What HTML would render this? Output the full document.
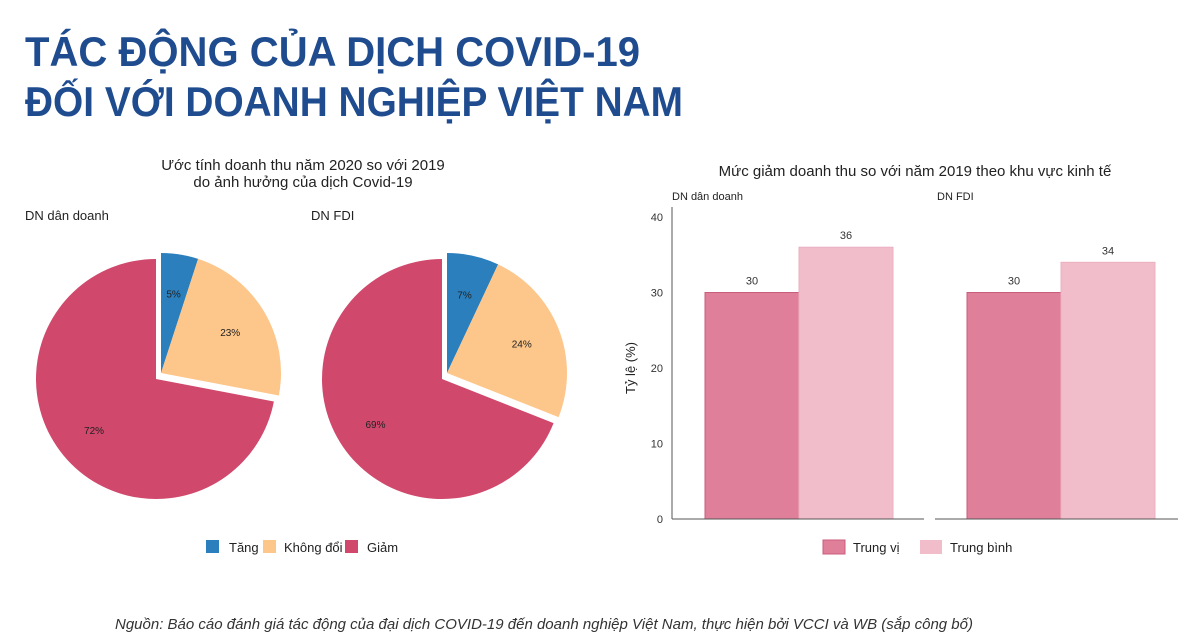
<!DOCTYPE html>
<html><head><meta charset="utf-8">
<style>
html,body{margin:0;padding:0;background:#fff;}
svg{display:block;font-family:"Liberation Sans","Noto Sans CJK SC",sans-serif;}
</style></head>
<body>
<svg id="root" width="1200" height="642" viewBox="0 0 1200 642">
  <g fill="#1f4b8f" font-weight="bold" font-size="42">
    <text x="25" y="66" textLength="615" lengthAdjust="spacingAndGlyphs">TÁC ĐỘNG CỦA DỊCH COVID-19</text>
    <text x="25" y="116" textLength="658" lengthAdjust="spacingAndGlyphs">ĐỐI VỚI DOANH NGHIỆP VIỆT NAM</text>
  </g>

  <g font-size="15" fill="#222" text-anchor="middle">
    <text x="303" y="170">Ước tính doanh thu năm 2020 so với 2019</text>
    <text x="303" y="187">do ảnh hưởng của dịch Covid-19</text>
  </g>
  <text x="25" y="220" font-size="13" fill="#222">DN dân doanh</text>
  <text x="311" y="220" font-size="13" fill="#222">DN FDI</text>
  <g id="pies"></g>

  <g font-size="13" fill="#222">
    <g><rect x="206" y="540" width="13" height="13" fill="#2b7fbd"/><text x="229" y="552">Tăng</text></g>
    <g><rect x="263" y="540" width="13" height="13" fill="#fdc68a"/><text x="284" y="552">Không đổi</text></g>
    <g><rect x="345" y="540" width="13" height="13" fill="#d0486c"/><text x="367" y="552">Giảm</text></g>
  </g>

  <text x="915" y="176" font-size="15" fill="#222" text-anchor="middle">Mức giảm doanh thu so với năm 2019 theo khu vực kinh tế</text>
  <text x="672" y="200" font-size="11" fill="#222">DN dân doanh</text>
  <text x="937" y="200" font-size="11" fill="#222">DN FDI</text>
  <text transform="translate(635,368) rotate(-90)" font-size="13" fill="#222" text-anchor="middle">Tỷ lệ (%)</text>
  <g id="bars"></g>

  <g font-size="13" fill="#222">
    <g><rect x="823" y="540" width="22" height="14" fill="#e07f99" stroke="#c85d7c"/><text x="853" y="552">Trung vị</text></g>
    <g><rect x="920" y="540" width="22" height="14" fill="#f2bdcb"/><text x="950" y="552">Trung bình</text></g>
  </g>

  <text x="544" y="629" font-size="15" font-style="italic" fill="#333" text-anchor="middle">Nguồn: Báo cáo đánh giá tác động của đại dịch COVID-19 đến doanh nghiệp Việt Nam, thực hiện bởi VCCI và WB (sắp công bố)</text>
</svg>
<script>
const pieGroups = ["DN dân doanh", "DN FDI"];
const pieCategories = ["Tăng", "Không đổi", "Giảm"];
const pieValuesDanDoanh = [5, 23, 72];
const pieValuesFDI = [7, 24, 69];
const pieColors = ["#2b7fbd", "#fdc68a", "#d0486c"];

const barGroups = ["DN dân doanh", "DN FDI"];
const barSeriesNames = ["Trung vị", "Trung bình"];
const barTrungVi = [30, 30];
const barTrungBinh = [36, 34];
const yTicks = [0, 10, 20, 30, 40];

const NS = "http://www.w3.org/2000/svg";
function mk(tag, attrs, parent) {
  const e = document.createElementNS(NS, tag);
  for (const k in attrs) e.setAttribute(k, attrs[k]);
  parent.appendChild(e);
  return e;
}

// Pies
const pies = document.getElementById('pies');
const pieLayouts = [{cx: 156, cy: 379}, {cx: 442, cy: 379}];
const R = 120;
[pieValuesDanDoanh, pieValuesFDI].forEach((vals, pi) => {
  const total = vals.reduce((a, b) => a + b, 0);
  const L = pieLayouts[pi];
  const g = mk('g', {}, pies);
  
  
  let acc = 0;
  vals.forEach((v, i) => {
    const a0 = acc / total * 2 * Math.PI;
    acc += v;
    const a1 = acc / total * 2 * Math.PI;
    const ox = i < 2 ? 5 : 0, oy = i < 2 ? -6 : 0;
    const cx = L.cx + ox, cy = L.cy + oy;
    const p = (a) => [cx + R * Math.sin(a), cy - R * Math.cos(a)];
    const [x0, y0] = p(a0), [x1, y1] = p(a1);
    const large = (a1 - a0) > Math.PI ? 1 : 0;
    const path = mk('path', {
      d: `M${cx},${cy} L${x0},${y0} A${R},${R} 0 ${large} 1 ${x1},${y1} Z`,
      fill: pieColors[i]
    }, g);
    
    
    const am = (a0 + a1) / 2;
    const lr = 0.67;
    const t = mk('text', {
      x: cx + R * lr * Math.sin(am), y: cy - R * lr * Math.cos(am) + 4,
      'font-size': 10, fill: '#222', 'text-anchor': 'middle'
    }, g);
    t.textContent = v + '%';
    
    
  });
});

// Bars
const bars = document.getElementById('bars');
const y0px = 519, pxPerUnit = 7.55;
const yScale = v => y0px - v * pxPerUnit;
const panels = [{x0: 672, x1: 924, b: 705}, {x0: 935, x1: 1178, b: 967}];
const bw = 94;
mk('line', {x1: 672, y1: yScale(0), x2: 672, y2: yScale(40) - 10, stroke: '#555', 'stroke-width': 1}, bars);
yTicks.forEach(t => {
  const tx = mk('text', {x: 663, y: yScale(t) + 4, 'font-size': 11, fill: '#333', 'text-anchor': 'end'}, bars);
  tx.textContent = t;
  
  
});
barGroups.forEach((gname, gi) => {
  const P = panels[gi];
  [barTrungVi, barTrungBinh].forEach((series, si) => {
    const v = series[gi];
    const x = P.b + si * bw;
    const r = mk('rect', {
      x: x, y: yScale(v), width: bw, height: yScale(0) - yScale(v),
      fill: si === 0 ? '#e07f99' : '#f2bdcb',
      stroke: si === 0 ? '#c85d7c' : '#eab0c0', 'stroke-width': 1
    }, bars);
    
    
    const t = mk('text', {x: x + bw / 2, y: yScale(v) - 8, 'font-size': 11, fill: '#333', 'text-anchor': 'middle'}, bars);
    t.textContent = v;
    
    
  });
  const base = mk('line', {x1: P.x0, y1: yScale(0), x2: P.x1, y2: yScale(0), stroke: '#555', 'stroke-width': 1}, bars);
  
  
});
</script>
</body></html>
